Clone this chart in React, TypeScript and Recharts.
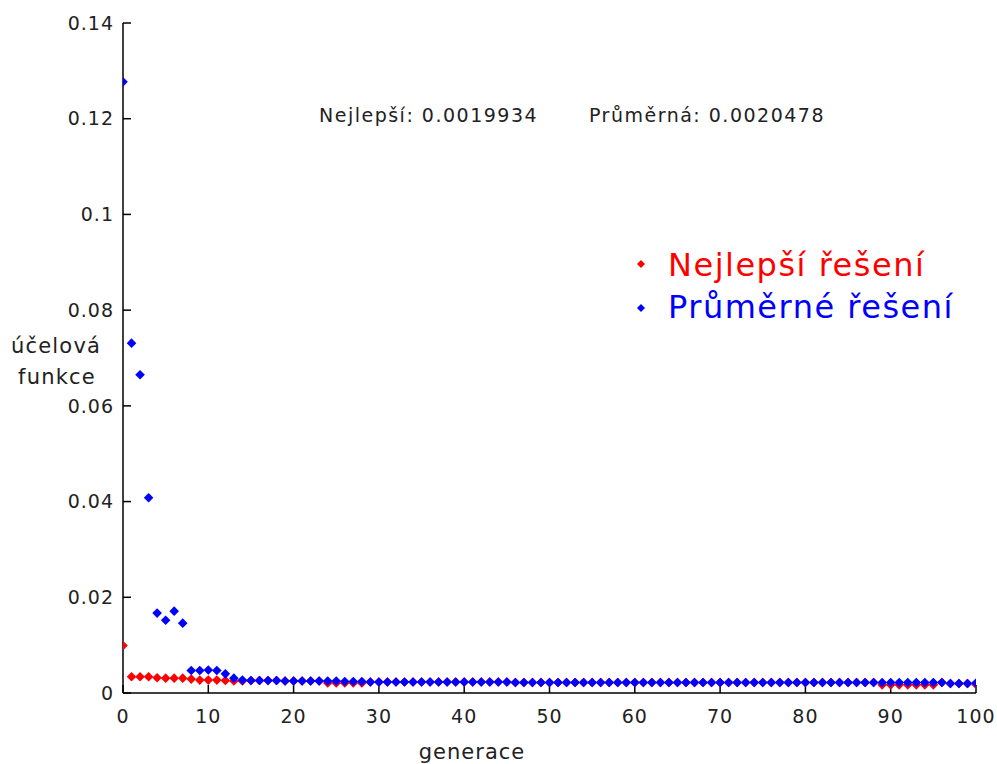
import React from "react";
import { ScatterChart, Scatter, XAxis, YAxis } from "recharts";

const generations = [
  0, 1, 2, 3, 4, 5, 6, 7, 8, 9, 10, 11, 12, 13, 14, 15, 16, 17, 18, 19, 20,
  21, 22, 23, 24, 25, 26, 27, 28, 29, 30, 31, 32, 33, 34, 35, 36, 37, 38, 39, 40,
  41, 42, 43, 44, 45, 46, 47, 48, 49, 50, 51, 52, 53, 54, 55, 56, 57, 58, 59, 60,
  61, 62, 63, 64, 65, 66, 67, 68, 69, 70, 71, 72, 73, 74, 75, 76, 77, 78, 79, 80,
  81, 82, 83, 84, 85, 86, 87, 88, 89, 90, 91, 92, 93, 94, 95, 96, 97, 98, 99, 100,
];

const averageSolution = [
  0.1277, 0.0731, 0.0665, 0.0408, 0.0167, 0.0152, 0.0171, 0.0146, 0.0047, 0.0047,
  0.0048, 0.0047, 0.0040, 0.0031, 0.0027, 0.0026, 0.0026, 0.0026, 0.0026, 0.0025,
  0.0025, 0.0025, 0.0025, 0.0025, 0.0025, 0.0025, 0.0024, 0.0024, 0.0024, 0.0023,
  0.0023, 0.0023, 0.0023, 0.0023, 0.0023, 0.0023, 0.0023, 0.0023, 0.0023, 0.0023,
  0.0023, 0.0023, 0.0023, 0.0023, 0.0023, 0.0023, 0.0022, 0.0022, 0.0022, 0.0022,
  0.0022, 0.0022, 0.0022, 0.0022, 0.0022, 0.0022, 0.0022, 0.0022, 0.0022, 0.0022,
  0.0022, 0.0022, 0.0022, 0.0022, 0.0022, 0.0022, 0.0022, 0.0022, 0.0022, 0.0022,
  0.0022, 0.0022, 0.0022, 0.0022, 0.0022, 0.0022, 0.0022, 0.0022, 0.0022, 0.0022,
  0.0022, 0.0022, 0.0022, 0.0022, 0.0022, 0.0022, 0.0022, 0.0022, 0.0022, 0.0022,
  0.0022, 0.0022, 0.0022, 0.0022, 0.0022, 0.0022, 0.0022, 0.0020, 0.0020, 0.0020,
  0.0021,
];

const bestSolution = [
  0.0099, 0.0034, 0.0034, 0.0034, 0.0032, 0.0031, 0.0031, 0.0031, 0.0029, 0.0027,
  0.0027, 0.0027, 0.0026, 0.0025, 0.0025, 0.0026, 0.0026, 0.0026, 0.0026, 0.0025,
  0.0025, 0.0025, 0.0025, 0.0025, 0.0021, 0.0021, 0.0021, 0.0021, 0.0021, 0.0023,
  0.0023, 0.0023, 0.0023, 0.0023, 0.0023, 0.0023, 0.0023, 0.0023, 0.0023, 0.0023,
  0.0023, 0.0023, 0.0023, 0.0023, 0.0023, 0.0023, 0.0022, 0.0022, 0.0022, 0.0022,
  0.0022, 0.0022, 0.0022, 0.0022, 0.0022, 0.0022, 0.0022, 0.0022, 0.0022, 0.0022,
  0.0022, 0.0022, 0.0022, 0.0022, 0.0022, 0.0022, 0.0022, 0.0022, 0.0022, 0.0022,
  0.0022, 0.0022, 0.0022, 0.0022, 0.0022, 0.0022, 0.0022, 0.0022, 0.0022, 0.0022,
  0.0022, 0.0022, 0.0022, 0.0022, 0.0022, 0.0022, 0.0022, 0.0022, 0.0022, 0.0017,
  0.0017, 0.0017, 0.0017, 0.0017, 0.0017, 0.0017, 0.0022, 0.0020, 0.0020, 0.0020,
  0.0018,
];

const xTicks = [0, 10, 20, 30, 40, 50, 60, 70, 80, 90, 100];
const yTicks = [0, 0.02, 0.04, 0.06, 0.08, 0.1, 0.12, 0.14];
const yTickLabels = ["0", "0.02", "0.04", "0.06", "0.08", "0.1", "0.12", "0.14"];

const seriesNames = ["Nejlepší řešení", "Průměrné řešení"];
const summaryTexts = ["Nejlepší: 0.0019934", "Průměrná: 0.0020478"];
const yLabelLines = ["účelová", "funkce"];
const xLabel = "generace";

const bestData = generations.map((g, i) => ({ x: g, y: bestSolution[i] }));
const avgData = generations.map((g, i) => ({ x: g, y: averageSolution[i] }));

const FONT = "DejaVu Sans, sans-serif";

const diamond = (color: string, r: number) => (props: any) => {
  const { cx, cy } = props;
  if (cx == null || cy == null) return <g />;
  return (
    <path
      d={`M${cx},${cy - r}L${cx + r},${cy}L${cx},${cy + r}L${cx - r},${cy}Z`}
      fill={color}
    />
  );
};

export default function App() {
  return (
    <div style={{ position: "absolute", left: 0, top: 0, width: 997, height: 764, background: "#fff" }}>
      <ScatterChart
        width={997}
        height={764}
        margin={{ top: 23, right: 21, bottom: 41, left: 63 }}
      >
        <XAxis
          type="number"
          dataKey="x"
          domain={[0, 100]}
          ticks={xTicks}
          interval={0}
          allowDataOverflow
          height={30}
          tickSize={-8}
          tickMargin={25}
          axisLine={{ stroke: "#000", strokeWidth: 1.5 }}
          tickLine={{ stroke: "#000", strokeWidth: 1.5 }}
          tick={{ fill: "#222", fontSize: 19, fontFamily: FONT, letterSpacing: 1 }}
        />
        <YAxis
          type="number"
          dataKey="y"
          domain={[0, 0.14]}
          ticks={yTicks}
          interval={0}
          allowDataOverflow
          width={60}
          tickSize={-8}
          tickMargin={17}
          tickFormatter={(v: number) => yTickLabels[yTicks.indexOf(v)] ?? String(v)}
          axisLine={{ stroke: "#000", strokeWidth: 1.5 }}
          tickLine={{ stroke: "#000", strokeWidth: 1.5 }}
          tick={{ fill: "#222", fontSize: 19, fontFamily: FONT, letterSpacing: 1 }}
        />
        <Scatter
          name={seriesNames[0]}
          data={bestData}
          shape={diamond("#ff0000", 4.8)}
          isAnimationActive={false}
        />
        <Scatter
          name={seriesNames[1]}
          data={avgData}
          shape={diamond("#0000ff", 4.8)}
          isAnimationActive={false}
        />
      </ScatterChart>
      <svg
        width={997}
        height={764}
        style={{ position: "absolute", left: 0, top: 0, pointerEvents: "none" }}
      >
        <text x={319} y={122} fontSize={19} letterSpacing={1.5} fontFamily={FONT} fill="#222">
          {summaryTexts[0]}
        </text>
        <text x={589} y={122} fontSize={19} letterSpacing={1.5} fontFamily={FONT} fill="#222">
          {summaryTexts[1]}
        </text>
        <path d="M641,260L645,264L641,268L637,264Z" fill="#ff0000" />
        <path d="M641,304L645,308L641,312L637,308Z" fill="#0000ff" />
        <text x={668} y={276} fontSize={32} letterSpacing={1.5} fontFamily={FONT} fill="#ff0000">
          {seriesNames[0]}
        </text>
        <text x={668} y={318} fontSize={32} letterSpacing={1.5} fontFamily={FONT} fill="#0000ff">
          {seriesNames[1]}
        </text>
        <text x={56} y={353} fontSize={21} letterSpacing={1.2} fontFamily={FONT} fill="#222" textAnchor="middle">
          {yLabelLines[0]}
        </text>
        <text x={57} y={384} fontSize={21} letterSpacing={1.2} fontFamily={FONT} fill="#222" textAnchor="middle">
          {yLabelLines[1]}
        </text>
        <text x={472} y={759} fontSize={21} letterSpacing={1} fontFamily={FONT} fill="#222" textAnchor="middle">
          {xLabel}
        </text>
      </svg>
    </div>
  );
}
